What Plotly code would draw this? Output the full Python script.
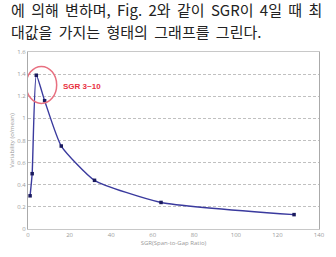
import plotly.graph_objects as go

sgr = [1, 2, 4, 8, 16, 32, 64, 128]
variability = [0.30, 0.50, 1.39, 1.16, 0.75, 0.44, 0.24, 0.13]
x_ticks = [0, 20, 40, 60, 80, 100, 120, 140]
y_ticks = [0, 0.2, 0.4, 0.6, 0.8, 1, 1.2, 1.4, 1.6]
y_tick_text = ["0", "0.2", "0.4", "0.6", "0.8", "1", "1.2", "1.4", "1.6"]
text_lines = ["에 의해 변하며, Fig. 2와 같이 SGR이 4일 때 최",
              "대값을 가지는 형태의 그래프를 그린다."]
note = "SGR 3~10"

fig = go.Figure()
fig.add_trace(go.Scatter(
    x=sgr, y=variability, mode="lines+markers",
    line=dict(color="#3a3a9e", width=1.4, shape="spline", smoothing=0.5),
    marker=dict(symbol="square", size=3.5, color="#1a1a5e"),
    showlegend=False, cliponaxis=False))

fig.add_shape(type="circle", xref="x", yref="y",
              x0=-0.9, x1=13.8, y0=1.135, y1=1.47,
              line=dict(color="#e87080", width=1.5))
fig.add_annotation(x=16, y=1.29, xref="x", yref="y", text="<b>" + note + "</b>",
                   showarrow=False, xanchor="left",
                   font=dict(family="Arial, Liberation Sans", size=8, color="#e83040"))

for i, t in enumerate(text_lines):
    spaced = t.replace(" ", "\u00a0\u2009")
    fig.add_annotation(x=0, y=[10, 31][i], xref="paper", yref="paper", text=spaced,
                       showarrow=False, xanchor="left", yanchor="middle",
                       font=dict(family="Noto Sans CJK KR", size=15, color="#222"))

fig.update_layout(
    width=336, height=257,
    margin=dict(l=20, r=11, t=52, b=28),
    paper_bgcolor="white", plot_bgcolor="white",
    xaxis=dict(range=[0, 140], tickvals=x_ticks, showgrid=False, zeroline=False,
               showline=True, linecolor="#c8c8c8", mirror=True, ticks="",
               tickfont=dict(size=6, color="#999"),
               title=dict(text="SGR(Span-to-Gap Ratio)", font=dict(size=6, color="#999"),
                          standoff=2)),
    yaxis=dict(range=[0, 1.6], tickvals=y_ticks, ticktext=y_tick_text,
               showgrid=True, gridcolor="#c0c0c0", griddash="3px,2px", zeroline=False,
               showline=True, linecolor="#aaaaaa", mirror=True, ticks="",
               tickfont=dict(size=6, color="#999"),
               title=dict(text="Variability (σ/mean)", font=dict(size=6, color="#999"),
                          standoff=2)),
)

plot_h = 257 - 52 - 28
for a in fig.layout.annotations:
    if a.xref == "paper":
        a.y = (257 - 28 - a.y) / plot_h
        a.x = -20 / (336 - 20 - 11)

fig.write_html("out.html")
